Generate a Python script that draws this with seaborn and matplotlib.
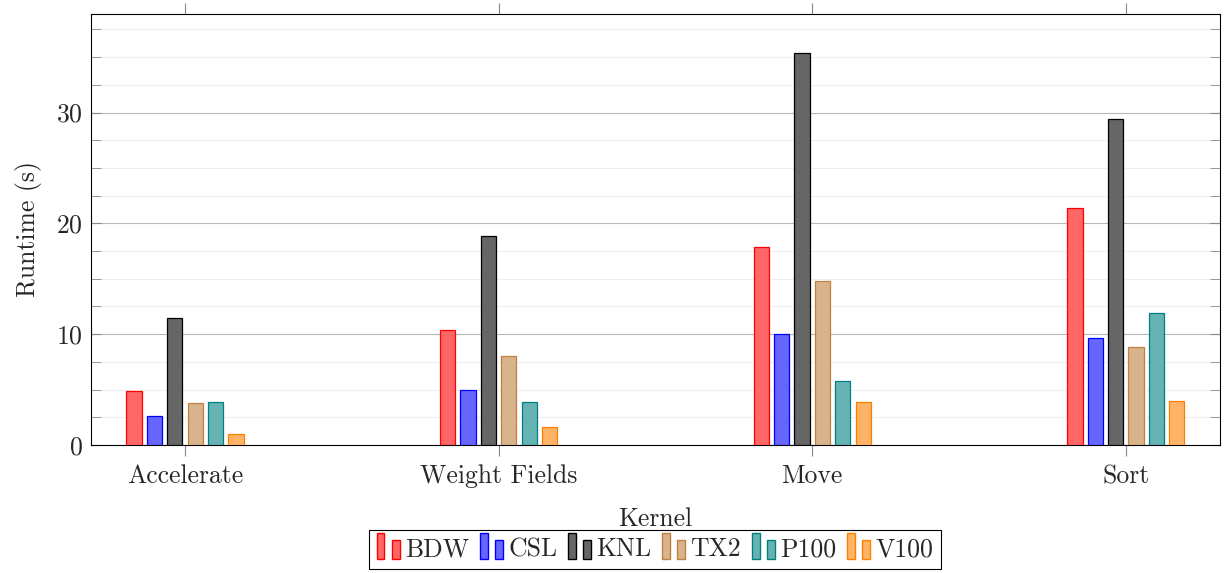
import matplotlib
matplotlib.use('Agg')
import matplotlib.pyplot as plt
import matplotlib.patches as mpatches
from matplotlib.ticker import MultipleLocator
import pandas as pd
import seaborn as sns

kernels = ['Accelerate', 'Weight Fields', 'Move', 'Sort']
platforms = ['BDW', 'CSL', 'KNL', 'TX2', 'P100', 'V100']

bdw = [4.9, 10.4, 17.9, 21.4]
csl = [2.6, 5.0, 10.0, 9.7]
knl = [11.5, 18.9, 35.4, 29.4]
tx2 = [3.8, 8.0, 14.8, 8.8]
p100 = [3.9, 3.9, 5.8, 11.9]
v100 = [1.0, 1.6, 3.9, 4.0]

fills = ['#ff6666', '#6666ff', '#666666', '#d9b38c', '#66b3b3', '#ffb366']
edges = ['#ff0000', '#0000ff', '#000000', '#bf8040', '#008080', '#ff8000']


class TwoBarHandler:
    # pgfplots style ybar legend: two small bars
    def __init__(self, face, edge):
        self.face = face
        self.edge = edge

    def legend_artist(self, legend, orig_handle, fontsize, handlebox):
        x0, y0 = handlebox.xdescent, handlebox.ydescent
        w, h = handlebox.width, handlebox.height
        bw = w * 0.34
        r1 = mpatches.Rectangle((x0, y0 - 0.15 * h), bw, h * 1.45, facecolor=self.face,
                                edgecolor=self.edge, lw=1, transform=handlebox.get_transform())
        r2 = mpatches.Rectangle((x0 + w * 0.66, y0 - 0.15 * h), bw, h * 1.05, facecolor=self.face,
                                edgecolor=self.edge, lw=1, transform=handlebox.get_transform())
        handlebox.add_artist(r1)
        handlebox.add_artist(r2)
        return r1


def main():
    sns.set_style('white')
    plt.rcParams['font.family'] = ['cmr10', 'DejaVu Serif']
    plt.rcParams['axes.formatter.use_mathtext'] = True
    plt.rcParams['mathtext.fontset'] = 'cm'

    values = {'BDW': bdw, 'CSL': csl, 'KNL': knl, 'TX2': tx2, 'P100': p100, 'V100': v100}
    rows = []
    for p in platforms:
        for k, v in zip(kernels, values[p]):
            rows.append({'Kernel': k, 'Platform': p, 'Runtime': v})
    df = pd.DataFrame(rows)

    fig = plt.figure(figsize=(12.24, 5.73), dpi=100)
    ax = fig.add_axes([0.0743, 0.2234, 0.9224, 0.7522])

    sns.barplot(data=df, x='Kernel', y='Runtime', hue='Platform', order=kernels,
                hue_order=platforms, palette=fills, saturation=1, width=0.39, gap=0.25,
                errorbar=None, legend=False, ax=ax, zorder=3)
    for cont, ec in zip(ax.containers, edges):
        for bar in cont:
            bar.set_edgecolor(ec)
            bar.set_linewidth(0.9)

    ax.set_xlim(-0.3, 3.3)
    ax.set_ylim(0, 38.9)
    ax.yaxis.set_major_locator(MultipleLocator(10))
    ax.yaxis.set_minor_locator(MultipleLocator(2.5))
    ax.grid(axis='y', which='major', color='#b8b8b8', lw=0.8, zorder=0)
    ax.grid(axis='y', which='minor', color='#eeeeee', lw=0.8, zorder=0)
    ax.set_axisbelow(True)

    fs = 18.5
    ax.tick_params(axis='x', which='major', direction='out', top=True, bottom=True,
                   length=8, color='#888888', labelsize=fs, pad=6)
    ax.tick_params(axis='y', which='both', direction='in', left=True, right=True,
                   length=7, color='#888888', labelsize=fs, pad=6)
    for s in ax.spines.values():
        s.set_color('black')
        s.set_linewidth(0.8)

    ax.set_xlabel('Kernel', fontsize=fs, labelpad=14)
    ax.set_ylabel('Runtime (s)', fontsize=fs, labelpad=10)

    handles = [mpatches.Patch(label=p) for p in platforms]
    hmap = {h: TwoBarHandler(f, e) for h, f, e in zip(handles, fills, edges)}
    leg = fig.legend(handles=handles, labels=platforms, handler_map=hmap, ncol=6,
                     loc='upper center', bbox_to_anchor=(0.535, 0.075), fontsize=fs,
                     frameon=True, fancybox=False, edgecolor='black', framealpha=1,
                     handlelength=0.9, handletextpad=0.2, columnspacing=0.42,
                     borderpad=0.3, borderaxespad=0)
    leg.get_frame().set_linewidth(0.8)

    fig.savefig('out.png', dpi=100)


main()
